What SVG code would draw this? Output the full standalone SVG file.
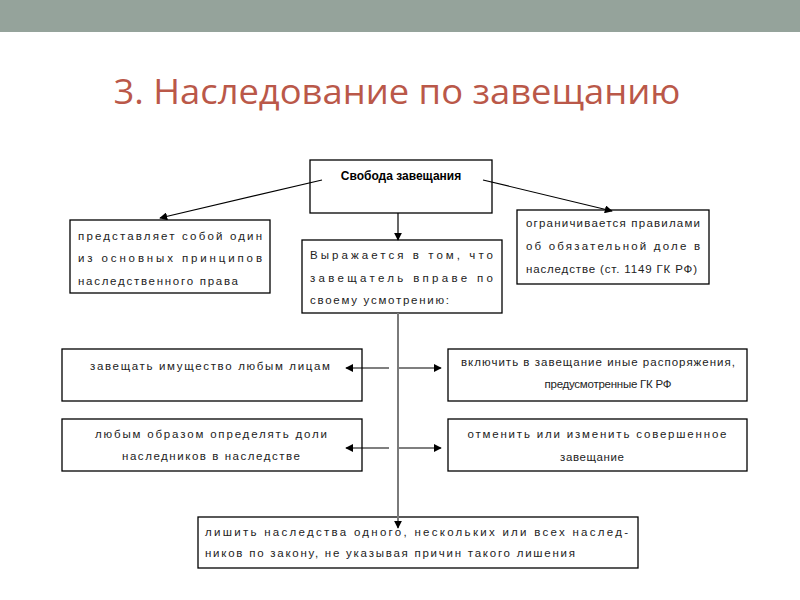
<svg xmlns="http://www.w3.org/2000/svg" width="800" height="600" viewBox="0 0 800 600">
<style>
.box{fill:#fff;stroke:#000;stroke-width:1.3}
.t{font-family:"Liberation Sans","DejaVu Sans",sans-serif;font-size:11.5px;fill:#222}
.c{text-anchor:middle}
.b{font-weight:bold;font-size:12px;fill:#000}
.ln{stroke:#000;stroke-width:1.2;fill:none}
.gl{stroke:#7a7a7a;stroke-width:2;fill:none}
</style>
<defs>
<marker id="ah" viewBox="0 0 10 10" refX="9" refY="5" markerWidth="8" markerHeight="8" markerUnits="userSpaceOnUse" orient="auto">
<path d="M0,0 L10,5 L0,10 z" fill="#000"/>
</marker>
</defs>
<rect x="0" y="0" width="800" height="600" fill="#fff"/>
<rect x="0" y="0" width="800" height="32" fill="#95A39B"/>
<text x="397" y="104" text-anchor="middle" font-family="'Open Sans','Noto Sans',sans-serif" font-size="35" fill="#BA5849" textLength="567" lengthAdjust="spacingAndGlyphs">3. Наследование по завещанию</text>

<g id="root">
<rect class="box" x="310" y="160" width="182" height="53"/>
<text class="t b" x="401" y="180" text-anchor="middle">Свобода завещания</text>
</g>

<g id="principle">
<rect class="box" x="70" y="220" width="200" height="73"/>
<text class="t" x="78" y="240" textLength="184" lengthAdjust="spacing">представляет собой один</text>
<text class="t" x="78" y="262" textLength="184" lengthAdjust="spacing">из основных принципов</text>
<text class="t" x="78" y="285" textLength="160" lengthAdjust="spacing">наследственного права</text>
</g>

<g id="expressed">
<rect class="box" x="302" y="240" width="200" height="73"/>
<text class="t" x="310" y="259" textLength="183" lengthAdjust="spacing">Выражается в том, что</text>
<text class="t" x="310" y="282" textLength="183" lengthAdjust="spacing">завещатель вправе по</text>
<text class="t" x="310" y="304" textLength="139" lengthAdjust="spacing">своему усмотрению:</text>
</g>

<g id="limited">
<rect class="box" x="517" y="210" width="192" height="74"/>
<text class="t" x="526" y="227" textLength="174" lengthAdjust="spacing">ограничивается правилами</text>
<text class="t" x="526" y="250" textLength="174" lengthAdjust="spacing">об обязательной доле в</text>
<text class="t" x="526" y="273" textLength="171" lengthAdjust="spacing">наследстве (ст. 1149 ГК РФ)</text>
</g>

<g id="bequeath">
<rect class="box" x="62" y="349" width="300" height="52"/>
<text class="t c" x="210" y="370" textLength="240" lengthAdjust="spacing">завещать имущество любым лицам</text>
</g>

<g id="include">
<rect class="box" x="448" y="349" width="299" height="52"/>
<text class="t c" x="598" y="366" textLength="274" lengthAdjust="spacing">включить в завещание иные распоряжения,</text>
<text class="t c" x="608" y="388" textLength="127" lengthAdjust="spacing">предусмотренные ГК РФ</text>
</g>

<g id="shares">
<rect class="box" x="62" y="419" width="300" height="52"/>
<text class="t c" x="211" y="438" textLength="232" lengthAdjust="spacing">любым образом определять доли</text>
<text class="t c" x="211" y="460" textLength="178" lengthAdjust="spacing">наследников в наследстве</text>
</g>

<g id="revoke">
<rect class="box" x="448" y="419" width="299" height="52"/>
<text class="t c" x="597" y="438" textLength="259" lengthAdjust="spacing">отменить или изменить совершенное</text>
<text class="t c" x="592" y="461" textLength="64" lengthAdjust="spacing">завещание</text>
</g>

<g id="disinherit">
<rect class="box" x="198" y="517" width="440" height="51"/>
<text class="t" x="205" y="536" textLength="423" lengthAdjust="spacing">лишить наследства одного, нескольких или всех наслед-</text>
<text class="t" x="205" y="557" textLength="370" lengthAdjust="spacing">ников по закону, не указывая причин такого лишения</text>
</g>

<g id="connectors">
<line class="ln" x1="322" y1="180" x2="160" y2="218" marker-end="url(#ah)"/>
<line class="ln" x1="483" y1="180" x2="612" y2="211" marker-end="url(#ah)"/>
<line class="ln" x1="398" y1="213" x2="398" y2="240" marker-end="url(#ah)"/>
<line class="gl" x1="398" y1="313" x2="398" y2="528" marker-end="url(#ah)"/>
<line class="ln" x1="389" y1="368" x2="346" y2="368" marker-end="url(#ah)"/>
<line class="ln" x1="399" y1="368" x2="441" y2="368" marker-end="url(#ah)"/>
<line class="ln" x1="389" y1="448" x2="346" y2="448" marker-end="url(#ah)"/>
<line class="ln" x1="399" y1="448" x2="441" y2="448" marker-end="url(#ah)"/>
</g>
</svg>
